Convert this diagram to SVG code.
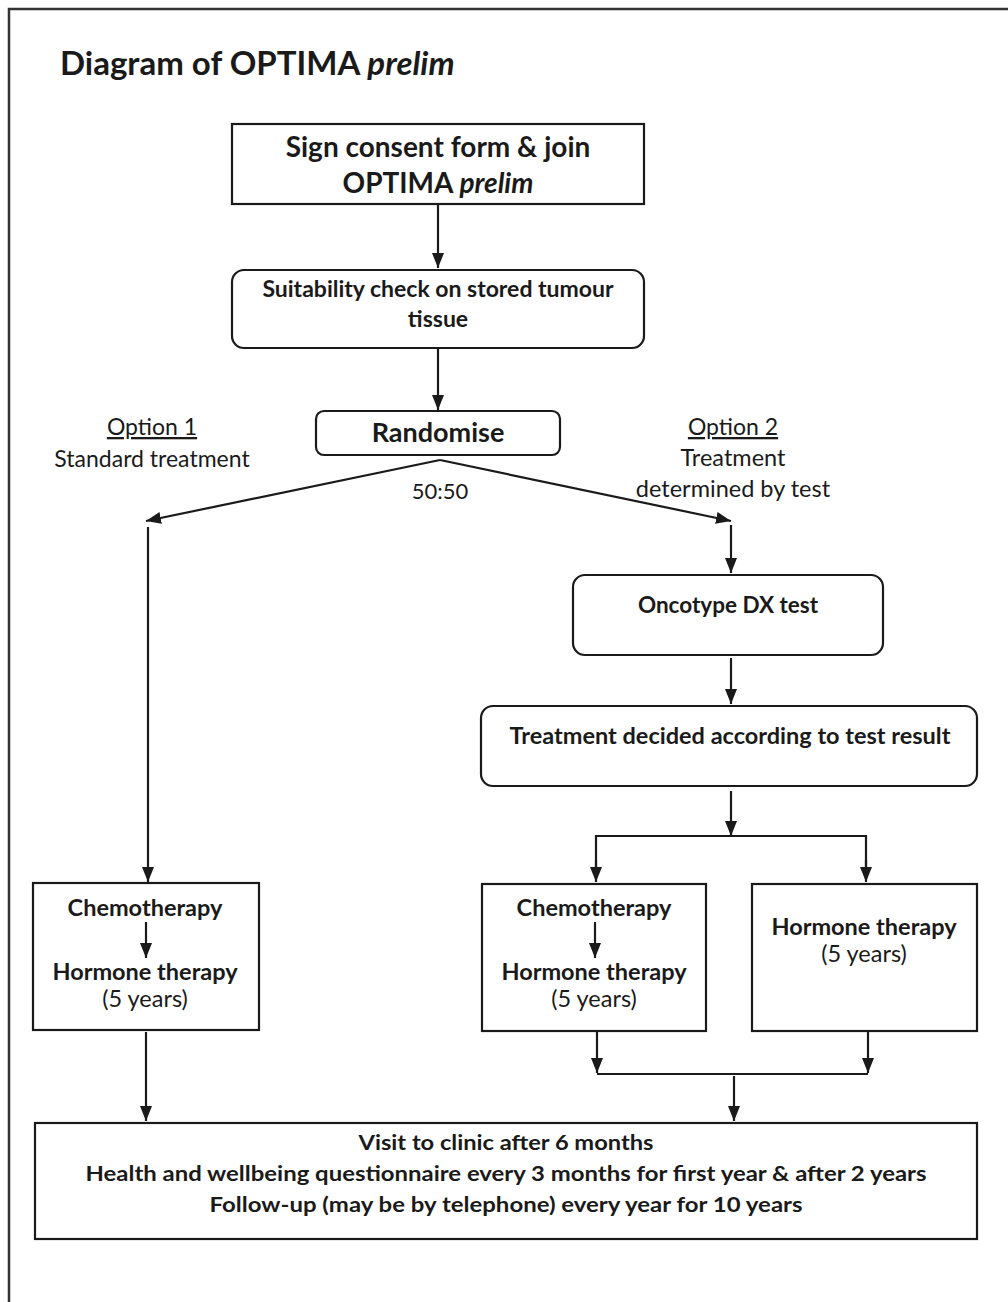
<svg xmlns="http://www.w3.org/2000/svg" width="1008" height="1302" viewBox="0 0 1008 1302">
<defs>
<marker id="ah" viewBox="0 0 15 12" refX="15" refY="6" markerWidth="15" markerHeight="12" markerUnits="userSpaceOnUse" orient="auto">
<path d="M0,0 L15,6 L0,12 Z" fill="#1a1a1a"/>
</marker>
<style>
text{font-family:Lato,"Open Sans","Liberation Sans",sans-serif;fill:#1a1a1a;text-anchor:middle}
.b{font-weight:bold}
.box{fill:#fff;stroke:#1a1a1a;stroke-width:2.2}
.c{fill:none;stroke:#1a1a1a;stroke-width:2.2}
.ca{fill:none;stroke:#1a1a1a;stroke-width:2.2;marker-end:url(#ah)}
</style>
</defs>
<rect x="0" y="0" width="1008" height="1302" fill="#fff"/>
<path d="M9,1302 V9 H1008" fill="none" stroke="#333" stroke-width="2.5"/>
<text x="60" y="75" class="b" style="font-size:33px;text-anchor:start">Diagram of OPTIMA <tspan font-style="italic">prelim</tspan></text>

<g id="connectors">
<line x1="438" y1="205" x2="438" y2="268" class="ca"/>
<line x1="438" y1="349" x2="438" y2="410" class="ca"/>
<line x1="440" y1="460" x2="146" y2="521" class="ca"/>
<line x1="440" y1="460" x2="731" y2="521" class="ca"/>
<line x1="148" y1="527" x2="148" y2="882" class="ca"/>
<line x1="731" y1="525" x2="731" y2="573" class="ca"/>
<line x1="731" y1="658" x2="731" y2="704" class="ca"/>
<line x1="731" y1="791" x2="731" y2="836" class="ca"/>
<polyline points="596,870 596,836 866,836 866,870" class="c"/>
<line x1="596" y1="860" x2="596" y2="882" class="ca"/>
<line x1="866" y1="860" x2="866" y2="882" class="ca"/>
<line x1="597" y1="1031" x2="597" y2="1073" class="ca"/>
<line x1="868" y1="1031" x2="868" y2="1073" class="ca"/>
<line x1="597" y1="1074" x2="868" y2="1074" class="c"/>
<line x1="734" y1="1076" x2="734" y2="1121" class="ca"/>
<line x1="146" y1="1032" x2="146" y2="1121" class="ca"/>
</g>

<g id="consent">
<rect x="232" y="124" width="412" height="80" class="box"/>
<text x="438" y="157" class="b" style="font-size:28px">Sign consent form &amp; join</text>
<text x="438" y="193" class="b" style="font-size:28px">OPTIMA <tspan font-style="italic">prelim</tspan></text>
</g>
<g id="suitability">
<rect x="232" y="270" width="412" height="78" rx="12" class="box"/>
<text x="438" y="297" class="b" style="font-size:23px">Suitability check on stored tumour</text>
<text x="438" y="327" class="b" style="font-size:23px">tissue</text>
</g>
<g id="randomise">
<rect x="316" y="411" width="244" height="44" rx="8" class="box"/>
<text x="438" y="442" class="b" style="font-size:27px">Randomise</text>
</g>
<g id="option1">
<text x="152" y="435" style="font-size:23px;text-decoration:underline">Option 1</text>
<text x="152" y="467" style="font-size:23px">Standard treatment</text>
</g>
<g id="option2">
<text x="733" y="435" style="font-size:23px;text-decoration:underline">Option 2</text>
<text x="733" y="466" style="font-size:23.5px">Treatment</text>
<text x="733" y="497" style="font-size:23.5px">determined by test</text>
</g>
<text x="440" y="499" style="font-size:22px">50:50</text>
<g id="oncotype">
<rect x="573" y="575" width="310" height="80" rx="12" class="box"/>
<text x="728" y="613" class="b" style="font-size:22.5px">Oncotype DX test</text>
</g>
<g id="decided">
<rect x="481" y="706" width="496" height="80" rx="12" class="box"/>
<text x="730" y="744" class="b" style="font-size:23.5px">Treatment decided according to test result</text>
</g>
<g id="left-treatment">
<rect x="33" y="883" width="226" height="147" class="box"/>
<text x="145" y="916" class="b" style="font-size:23.5px">Chemotherapy</text>
<line x1="146" y1="922" x2="146" y2="958" class="ca"/>
<text x="145" y="980" class="b" style="font-size:23.5px">Hormone therapy</text>
<text x="145" y="1007" style="font-size:23.5px">(5 years)</text>
</g>
<g id="mid-treatment">
<rect x="482" y="884" width="224" height="147" class="box"/>
<text x="594" y="916" class="b" style="font-size:23.5px">Chemotherapy</text>
<line x1="595" y1="922" x2="595" y2="958" class="ca"/>
<text x="594" y="980" class="b" style="font-size:23.5px">Hormone therapy</text>
<text x="594" y="1007" style="font-size:23.5px">(5 years)</text>
</g>
<g id="right-treatment">
<rect x="752" y="884" width="225" height="147" class="box"/>
<text x="864" y="935" class="b" style="font-size:23.5px">Hormone therapy</text>
<text x="864" y="962" style="font-size:23.5px">(5 years)</text>
</g>
<g id="followup">
<rect x="35" y="1123" width="942" height="116" class="box"/>
<text x="506" y="1150" class="b" style="font-size:21px" textLength="295" lengthAdjust="spacingAndGlyphs">Visit to clinic after 6 months</text>
<text x="506" y="1181" class="b" style="font-size:21px" textLength="841" lengthAdjust="spacingAndGlyphs">Health and wellbeing questionnaire every 3 months for first year &amp; after 2 years</text>
<text x="506" y="1212" class="b" style="font-size:21px" textLength="593" lengthAdjust="spacingAndGlyphs">Follow-up (may be by telephone) every year for 10 years</text>
</g>
</svg>
